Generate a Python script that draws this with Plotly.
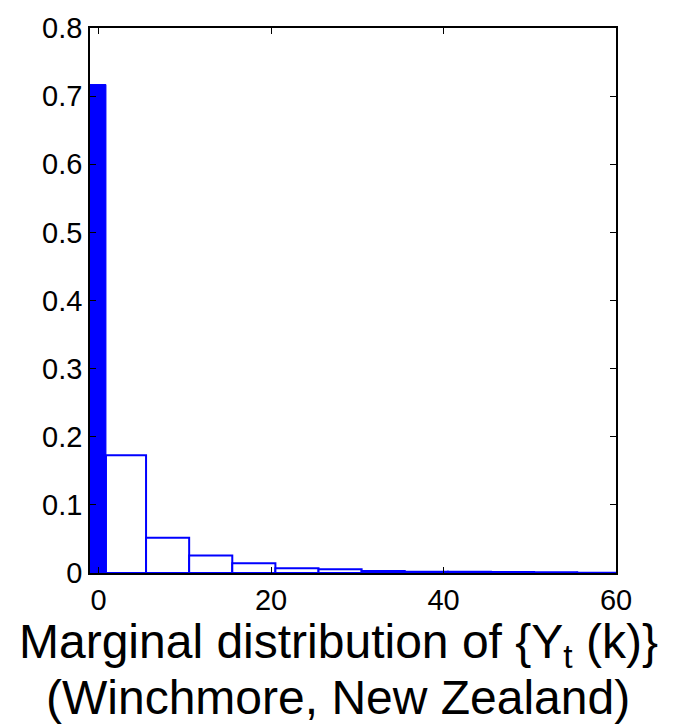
import numpy as np
import plotly.graph_objects as go

# Filled zero bin
zero_edges = [-1.0, 0.85]
zero_height = [0.717]

# Outlined histogram bins
bin_edges = [0.85, 5.5, 10.5, 15.5, 20.5, 25.5, 30.5, 35.5, 40.5, 45.5, 50.5, 55.5, 60.0]
bin_heights = [0.173, 0.0517, 0.0257, 0.0142, 0.0069, 0.0055, 0.003, 0.002, 0.0017, 0.0015, 0.0012, 0.0003]

y_ticks = [0, 0.1, 0.2, 0.3, 0.4, 0.5, 0.6, 0.7, 0.8]
y_tick_labels = ["0", "0.1", "0.2", "0.3", "0.4", "0.5", "0.6", "0.7", "0.8"]
x_ticks = [0, 20, 40, 60]
x_tick_labels = ["0", "20", "40", "60"]

title_lines = ["Marginal distribution of {Y<sub>t</sub> (k)}", "(Winchmore, New Zealand)"]

e = np.array(bin_edges)
centers = (e[:-1] + e[1:]) / 2
widths = e[1:] - e[:-1]
ze = np.array(zero_edges)

fig = go.Figure()
fig.add_trace(go.Bar(
    x=centers, y=bin_heights, width=widths,
    marker=dict(color="white", line=dict(color="#0000ff", width=2)),
    hoverinfo="skip",
))
fig.add_trace(go.Bar(
    x=[(ze[0] + ze[1]) / 2], y=zero_height, width=[ze[1] - ze[0]],
    marker=dict(color="#0000ff", line=dict(color="#0000ff", width=1)),
    hoverinfo="skip",
))

font = "Liberation Sans, Arial, sans-serif"
fig.update_layout(
    width=673, height=726,
    margin=dict(l=90, r=57, t=19, b=153),
    paper_bgcolor="white", plot_bgcolor="white",
    showlegend=False, barmode="overlay",
    font=dict(family=font, color="black", size=29),
)
for txt, ysh in zip(title_lines, [-40, -96]):
    fig.add_annotation(
        text=txt, xref="paper", yref="paper", x=0.5, y=0,
        xanchor="center", yanchor="top", xshift=-15, yshift=ysh,
        showarrow=False, font=dict(family=font, size=48, color="black"),
    )
fig.update_xaxes(
    range=[-1, 60], tickvals=x_ticks, ticktext=x_tick_labels,
    showgrid=False, zeroline=False,
    showline=True, linecolor="black", linewidth=1.7, mirror="allticks",
    ticks="inside", ticklen=6, tickcolor="black", tickwidth=1,
    tickfont=dict(size=29),
)
fig.update_yaxes(
    range=[0, 0.8], tickvals=y_ticks, ticktext=y_tick_labels,
    showgrid=False, zeroline=False,
    showline=True, linecolor="black", linewidth=1.7, mirror="allticks",
    ticks="inside", ticklen=6, tickcolor="black", tickwidth=1,
    tickfont=dict(size=29),
)

fig.write_html("out.html")
